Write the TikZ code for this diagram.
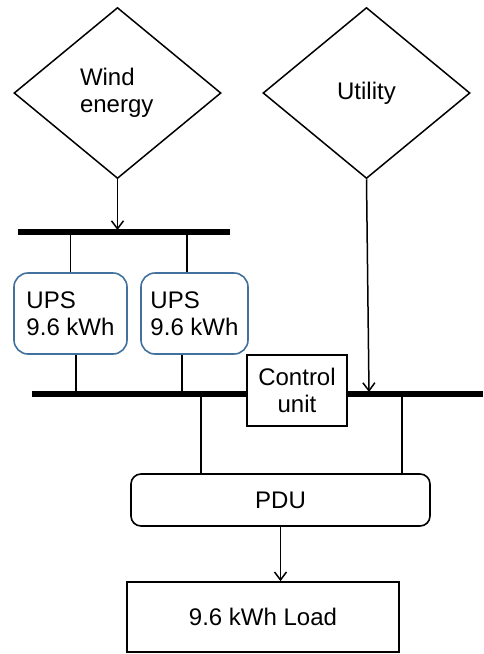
\documentclass[tikz,border=0pt]{standalone}
\usepackage{fontspec}
\setmainfont{Liberation Sans}
\usetikzlibrary{shapes.geometric,arrows.meta}
\definecolor{upsblue}{RGB}{65,113,156}
\begin{document}
\begin{tikzpicture}[x=1pt,y=-1pt,
  every node/.style={font=\fontsize{24}{27}\selectfont, inner sep=0pt},
  dia/.style={diamond, draw, line width=1.5pt, minimum width=207pt, minimum height=171pt, align=left},
  upsbox/.style={draw=upsblue, line width=1.6pt, rounded corners=14pt, minimum width=#1, minimum height=81pt, align=left},
  sqbox/.style={draw, line width=1.6pt, align=center},
  thin/.style={line width=1.5pt},
  bus/.style={line width=5.5pt},
  arr/.style={line width=1.5pt, -{Straight Barb[length=8pt,width=12pt,line width=1.5pt]}}
]
\useasboundingbox (0,0) rectangle (483,654);
\node[dia] (wind) at (117.5,93) {\raisebox{-5pt}{\parbox{75pt}{Wind\\energy}}};
\node[dia] (util) at (366.5,93) {Utility};
\node[upsbox=113pt] (ups1) at (70.5,313.5) {UPS\\9.6 kWh};
\node[upsbox=107pt] (ups2) at (194.5,313.5) {UPS\\9.6 kWh};
\node[sqbox, minimum width=100pt, minimum height=71pt] (ctrl) at (297,390.5) {Control\\unit};
\node[sqbox, rounded corners=10pt, minimum width=299pt, minimum height=52pt] (pdu) at (280.5,500) {PDU};
\node[sqbox, minimum width=272pt, minimum height=70pt] (load) at (263,617) {9.6 kWh Load};
% buses
\coordinate (tbL) at (18,232);
\coordinate (tbR) at (230,232);
\coordinate (bL) at (32,394);
\coordinate (bR) at (483,394);
\coordinate (uend) at (369,392);
\draw[bus] (tbL) -- (tbR);
\draw[bus] (bL) -- (ctrl.west |- bL);
\draw[bus] (ctrl.east |- bR) -- (bR);
% wind arrow
\draw[arr] (wind.south) -- (wind.south |- 0,230);
% UPS links
\draw[thin] (ups1.north) -- (ups1.north |- tbL);
\draw[thin] ([xshift=-7.5pt]ups2.north) -- ([xshift=-7.5pt]ups2.north |- tbL);
\draw[thin] ([xshift=5.5pt]ups1.south) -- ([xshift=5.5pt]ups1.south |- bL);
\draw[thin] ([xshift=-12.5pt]ups2.south) -- ([xshift=-12.5pt]ups2.south |- bL);
% utility arrow
\draw[arr] (util.south) -- (uend);
% PDU links
\draw[thin] ([xshift=-79.5pt]pdu.north) -- ([xshift=-79.5pt]pdu.north |- bL);
\draw[thin] ([xshift=121.5pt]pdu.north) -- ([xshift=121.5pt]pdu.north |- bR);
\draw[arr] (pdu.south) -- (pdu.south |- load.north);
\end{tikzpicture}
\end{document}
